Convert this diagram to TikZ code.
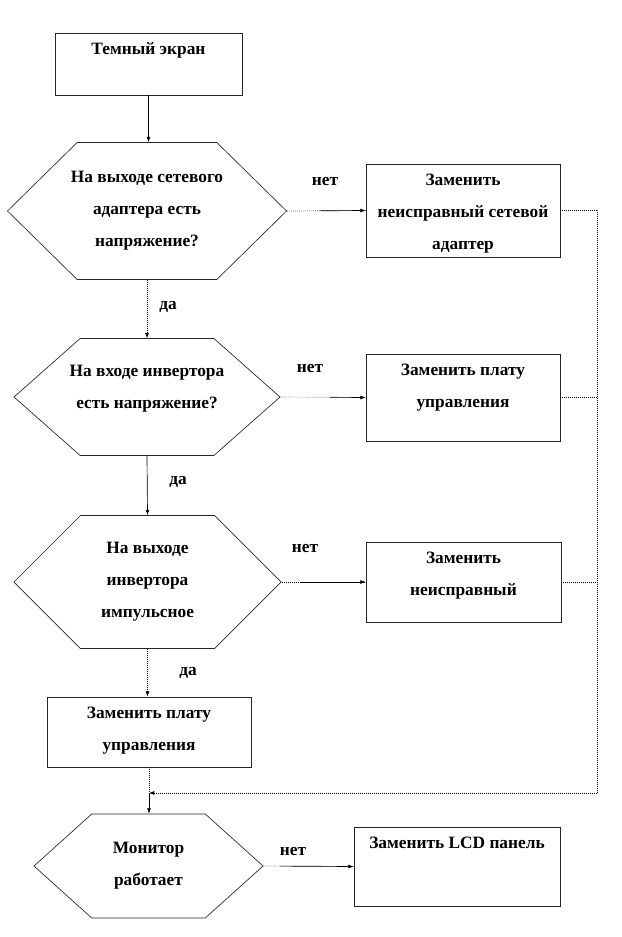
\documentclass[tikz,border=0pt]{standalone}
\usepackage{fontspec}
\setmainfont{Liberation Serif}
\usetikzlibrary{positioning,shapes.symbols,arrows.meta}
\tikzset{
  txt/.style={font=\bfseries\fontsize{13}{24}\selectfont, align=center, inner sep=0pt},
  frame/.style={draw=black!85, line width=0.5pt, inner sep=0pt},
  hexa/.style={signal, signal to=east and west, draw=black!85, line width=0.5pt, inner sep=0pt},
  flow/.style={-{Latex[length=4pt,width=3pt]}, line width=0.5pt},
  dotline/.style={densely dotted, line width=0.5pt}
}
\begin{document}
\begin{tikzpicture}[x=0.75pt,y=-0.75pt]
\useasboundingbox (0,0) rectangle (621,937);
% left column
\node[frame, minimum width=140.3pt, minimum height=46.5pt] (t) at (148.5,64) {};
\node[txt, below=7.5pt of t.north] (tt) {Темный экран};
\node[hexa, signal pointer angle=89, minimum width=209.3pt, minimum height=102.8pt] (h1) at (147,211) {};
\node[txt] (th1) at (h1) {На выходе сетевого\\адаптера есть\\напряжение?};
\node[hexa, signal pointer angle=83, minimum width=199.5pt, minimum height=87.8pt] (h2) at (147,397) {};
\node[txt] (th2) at (147,389) {На входе инвертора\\есть напряжение?};
\node[hexa, signal pointer angle=90, minimum width=200.3pt, minimum height=99.8pt] (h3) at (147.5,582) {};
\node[txt] (th3) at (h3) {На выходе\\инвертора\\импульсное};
\node[frame, minimum width=153pt, minimum height=52.5pt] (b4) at (149,732) {};
\node[txt, below=7.5pt of b4.north] (tb4) {Заменить плату\\управления};
\node[hexa, signal pointer angle=84, minimum width=171.8pt, minimum height=78pt] (h4) at (148.5,866) {};
\node[txt] (th4) at (h4) {Монитор\\работает};
% right column
\node[frame, minimum width=145.5pt, minimum height=69.8pt] (b2) at (463,210.5) {};
\node[txt, below=7.5pt of b2.north] (tb2) {Заменить\\неисправный сетевой\\адаптер};
\node[frame, minimum width=145.5pt, minimum height=65.3pt] (b3) at (463,397.5) {};
\node[txt, below=7.5pt of b3.north] (tb3) {Заменить плату\\управления};
\node[frame, minimum width=146.3pt, minimum height=60pt] (b5) at (463.5,582) {};
\node[txt, below=7.5pt of b5.north] (tb5) {Заменить\\неисправный};
\node[frame, minimum width=154.5pt, minimum height=59.3pt] (b6) at (457,866.5) {};
\node[txt, below=7.5pt of b6.north] (tb6) {Заменить LCD панель};
% labels
\node[txt] (n1) at (325,182) {нет};
\node[txt] (n2) at (310,369) {нет};
\node[txt] (n3) at (305,549) {нет};
\node[txt] (n4) at (293,851) {нет};
\node[txt] (d1) at (168,307) {да};
\node[txt] (d2) at (178,482) {да};
\node[txt] (d3) at (188,673) {да};
% connectors
\draw[flow] (t.south) -- (t.south |- h1.north);
\draw[dotline, flow] (h1.south) -- (h2.north);
\draw[flow] (h2.south) -- (h3.north);
\draw[dotline, flow] (h3.south) -- (h3.south |- b4.north);
\draw[dotline] (h1.east) -- (b2.west);
\draw[flow, shorten <=25pt] (h1.east) -- (b2.west);
\draw[dotline] (h2.east) -- (b3.west);
\draw[flow, shorten <=37pt] (h2.east) -- (b3.west);
\draw[dotline] (h3.east) -- (b5.west);
\draw[flow, shorten <=14pt] (h3.east) -- (b5.west);
\draw[dotline] (h4.east) -- (b6.west);
\draw[flow, shorten <=12pt] (h4.east) -- (b6.west);
% return line
\coordinate (rc) at (597,793);
\coordinate (jn) at (b4.south |- rc);
\draw[dotline] (b2.east) -| (rc);
\draw[dotline] (b3.east) -- (b3.east -| rc);
\draw[dotline] (b5.east) -- (b5.east -| rc);
\draw[dotline, flow] (rc) -- (jn);
\draw[dotline] (b4.south) -- (jn);
\draw[flow] (jn) -- (jn |- h4.north);
\end{tikzpicture}
\end{document}
